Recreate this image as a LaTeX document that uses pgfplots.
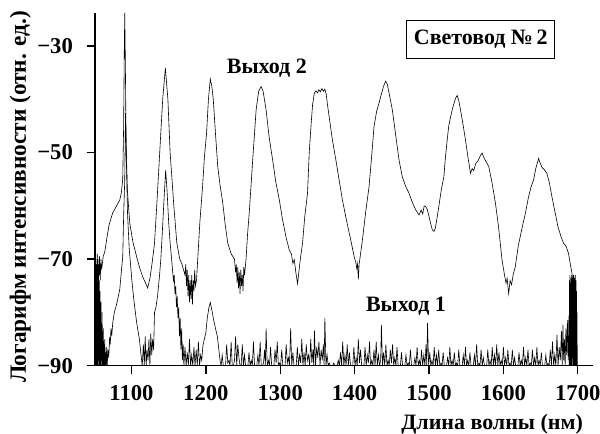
\documentclass[border=0pt]{standalone}
\usepackage{fontspec}
\setmainfont{Liberation Serif}
\usepackage{pgfplots}
\pgfplotsset{compat=1.18}
\begin{document}
\begin{tikzpicture}
\begin{axis}[
  scale only axis,
  width=374pt, height=265pt,
  xmin=1050.8, xmax=1720,
  ymin=-90, ymax=-23.8,
  axis x line=bottom, axis y line=left,
  axis line style={line width=1.1pt, -},
  xtick={1100,1200,1300,1400,1500,1600,1700},
  ytick={-90,-70,-50,-30},
  yticklabels={−90,−70,−50,−30},
  tick align=outside,
  major tick length=6pt,
  tick style={line width=1pt, black},
  ticklabel style={font=\fontsize{17}{19}\selectfont\bfseries},
  xticklabel style={/pgf/number format/1000 sep={}, yshift=-5pt},
  yticklabel style={xshift=-7pt},
  /pgf/number format/assume math mode=true,
  xlabel={Длина волны (нм)},
  xlabel style={font=\fontsize{16.5}{18}\selectfont\bfseries, at={(axis description cs:0.798,-0.181)}, anchor=base},
  ylabel={Логарифм интенсивности (отн. ед.)},
  ylabel style={font=\fontsize{17.5}{19}\selectfont\bfseries, at={(axis description cs:-0.15,0.479)}, anchor=center},
  clip=true,
]
\coordinate (bl) at (rel axis cs:0,0);
\coordinate (tr) at (rel axis cs:1,1);
% Выход 2
\addplot[black, line width=0.45pt] coordinates {
(1051,-72)(1051.5,-76)(1052,-70)(1052.5,-75)(1053,-71)(1053.5,-77)(1054,-69)(1054.5,-74)(1055,-70)(1055.5,-76)
(1056,-71)(1056.5,-73)(1057,-69.5)(1058,-74)(1059,-70)(1060,-72)(1062,-69.5)(1064.2,-68.6)(1067,-66)(1070,-63.5)
(1074.9,-61.3)(1080,-60)(1084.3,-58.9)(1086.5,-57.5)(1088.3,-55)(1089.5,-45)(1090.3,-32)(1091,-23.8)(1091.8,-33)
(1092.8,-48)(1094.5,-57)(1097.7,-63.2)(1102,-66.8)(1107.1,-69.6)(1111,-71.6)(1115.1,-73.3)(1118,-74.2)(1121.8,-75.4)
(1125,-73.5)(1128,-70.5)(1131,-67)(1134,-60)(1138,-50)(1142,-40)(1145.6,-34.1)
(1149,-40)(1152,-50)(1157,-60)(1161,-67)(1165,-70)(1168,-71)(1170,-72)
(1172,-73)(1173,-71)(1174,-75)(1175,-72)(1176,-77)(1177,-73)(1178,-78)(1179,-74)(1180,-77.5)(1181,-73)
(1182,-78.5)(1183,-74)(1184,-76)(1185,-72)(1186,-75)(1187.5,-73.9)(1189.5,-69)(1192,-63)(1195.6,-56.4)
(1198,-51)(1201,-46.3)(1203.5,-40)(1206,-36.2)(1208,-37.5)(1210,-40)(1213,-46.5)(1216,-52.6)(1219,-56)
(1222.8,-59.5)(1226,-63.5)(1229.5,-67)(1234,-69)(1238.5,-70)(1240,-72.5)(1241,-71)(1242,-74.5)(1243,-71.5)
(1244,-75.5)(1245,-72.5)(1246,-76.5)(1247,-72)(1248,-75)(1249,-73)(1250,-76)(1251,-71.5)(1252,-73)(1254,-70.1)
(1256,-65.5)(1258.6,-60.8)(1263,-51.4)(1267.6,-42)(1271,-38.5)(1274.3,-37.6)(1277,-38.5)(1281,-42)(1285,-47)
(1289.8,-51.4)(1294,-55.5)(1298.8,-58.9)(1303,-62.5)(1308,-66)(1312.2,-68.3)(1315,-69)(1317,-70.8)(1318.9,-70.1)
(1321,-72.5)(1323.3,-74.6)(1325,-72.5)(1327,-70)(1330,-67)(1333,-62)(1336.7,-57.6)(1339,-50)(1341.3,-45.1)
(1343.5,-41)(1345.8,-38.9)(1348,-38.4)(1350,-38.8)(1352,-38.2)(1354,-38.6)(1356,-38)(1358,-38.5)(1360,-38.1)
(1361.8,-39)(1363.5,-41)(1365.8,-43.3)(1370,-47.5)(1374.8,-51.4)(1379,-55)(1383.6,-58.9)(1388,-62)(1392.6,-65)
(1396,-67.2)(1399.3,-69.5)(1401.5,-70.5)(1403,-71.8)(1404,-70.9)(1405,-73.8)(1406,-71)(1408,-69)(1410.5,-66.4)
(1415,-61)(1419.4,-56.4)(1423,-50.5)(1426.1,-45.1)(1429.5,-42.3)(1432.8,-40.7)(1436,-39)(1439,-37.5)(1441.8,-36.6)
(1444,-37.2)(1446,-38.6)(1450.7,-42)(1455,-46.5)(1459.7,-51.4)(1464,-54.5)(1468.5,-56.3)(1473,-57.6)(1478,-59.5)
(1482,-60.7)(1486.5,-61.7)(1489.5,-60.8)(1491.5,-61.5)(1493.5,-60)(1495.4,-60.1)(1497.5,-60.6)(1500,-62)
(1502.5,-63.5)(1504.5,-64.5)(1506.6,-64.8)(1508.5,-64.2)(1510.5,-62.5)(1513.3,-60)(1516.5,-57)(1520,-54.5)
(1522,-51)(1524,-48.2)(1526.5,-45)(1529,-43.3)(1532,-41.5)(1535.7,-39.8)(1537.8,-39.3)(1540,-40.2)(1543,-42.5)
(1546,-45)(1549,-47.6)(1552.5,-51)(1555.8,-53.9)(1558,-53)(1560,-53.4)(1563,-52)(1566,-51.5)(1569,-50.6)
(1571.3,-50.1)(1574,-51)(1577,-51.8)(1580.3,-52.6)(1584.5,-55.5)(1589.3,-59.5)(1593.5,-64)(1598.1,-70.1)
(1601.5,-73)(1603.5,-74.5)(1605,-73.6)(1607.1,-76.5)(1609,-74)(1611,-74.8)(1613,-73)(1616,-71.4)(1620,-67.5)
(1624.5,-64.5)(1629.5,-61.4)(1633.5,-58.5)(1637,-56.5)(1640.6,-55.1)(1643.5,-53)(1647.3,-51.1)(1649.5,-52)
(1652,-52.8)(1655,-53.2)(1658.4,-53.9)(1661.5,-55.5)(1665.5,-58.5)(1669.7,-61.4)(1673.5,-64)(1677.5,-65.8)
(1680.8,-67)(1684,-67.5)(1687.5,-68.9)(1690,-71)(1692,-72.5)(1693,-74)(1694.2,-75.5)
};
% Выход 1
\addplot[black, line width=0.45pt] coordinates {
(1051,-90)(1051.3,-74)(1051.6,-88)(1051.9,-72)(1052.2,-90)(1052.5,-76)(1052.8,-86)(1053.1,-73)(1053.4,-90)(1053.7,-71)
(1054,-85)(1054.3,-74)(1054.6,-90)(1054.9,-75)(1055.2,-87)(1055.5,-72.5)(1055.8,-90)(1056.1,-77)(1056.4,-88)(1056.7,-74)
(1057,-90)(1057.3,-79)(1057.6,-86)(1057.9,-76)(1058.2,-90)(1058.5,-80)(1058.8,-88)(1059.1,-78)(1059.4,-90)(1059.8,-82)
(1060.2,-89)(1060.6,-80)(1061,-90)(1061.4,-84)(1061.8,-90)(1062.2,-83)(1062.7,-90)(1063.2,-86)(1063.7,-90)(1064.2,-85)
(1064.8,-90)(1065.4,-87.5)(1066,-90)(1066.7,-86.5)(1067.4,-90)(1068.5,-87)(1069.5,-88.5)(1070.7,-84.6)(1071.5,-86)(1072.5,-83)
(1073.5,-84.5)(1074.9,-81.9)
(1077,-80)(1080,-78.5)(1084.3,-75.7)(1086,-73)(1088.3,-69.5)(1089.5,-62)(1091,-55.1)(1092,-42.6)(1093,-50)(1094.7,-61.3)
(1097,-68)(1100.5,-73.9)(1103.5,-78)(1107,-81.9)(1110.8,-85.1)(1112.5,-87.5)(1114.5,-90)(1116,-86)(1117.3,-90)(1118.5,-84.5)
(1119.8,-90)(1121,-87)(1122.3,-89)(1123.5,-85)(1124.8,-90)(1126,-84)(1127.3,-88)(1128.5,-85)(1129.8,-87)(1131,-80)
(1133,-79)(1135,-77)(1137.5,-73.5)(1139.5,-70)(1141.5,-65)(1143.5,-59.5)(1146,-53.3)(1148,-57.5)(1150,-63)(1152,-67)
(1154,-70)(1155.5,-72.5)(1156.5,-74)(1157.5,-73)(1158.5,-76.5)(1159.5,-75)(1160.5,-79)(1161.5,-77)(1162.5,-81)(1163.5,-79)
(1164.5,-84.5)(1165.5,-81)(1166.5,-87)(1167.5,-83)(1168.5,-89)(1169.5,-86)(1170.5,-90)(1172,-86.5)(1173.5,-90)(1175,-87.5)
(1176.5,-90)(1178,-85)(1179.5,-90)(1181,-88)(1182.5,-90)(1184,-86.5)(1185.5,-90)(1187,-87)(1188.5,-90)(1190,-85.5)
(1191.5,-90)(1193,-88)(1194.5,-89)(1196,-86.3)(1198,-85)(1200,-83.8)(1202,-81)(1204,-79.2)(1206,-78.1)(1208,-79.5)
(1210.5,-81.4)(1213,-83)(1215.5,-84.5)(1217.5,-87)(1219.5,-89.4)(1220.5,-90)
(1222,-88)(1223.5,-90)(1225,-90)(1226.5,-90)(1228,-86)(1229.5,-89.5)(1231,-89)(1232.5,-90)(1234,-85.5)(1235.5,-90)
(1237,-90)(1238.5,-89)(1240,-84.5)(1241.5,-90)(1243,-86)(1244.5,-88.5)(1246,-90)(1247.5,-90)(1249,-86)(1250.5,-90)
(1252,-88)(1253.5,-90)(1255,-90)(1256.5,-90)(1258,-87.5)(1259.5,-90)(1261,-89)(1262.5,-90)(1264,-85.5)(1265.5,-90)
(1267,-90)(1268.5,-90)(1270,-88)(1271.5,-90)(1273,-85.5)(1274.5,-90)(1276,-90)(1277.5,-89.5)(1279,-87)(1280,-90)
(1281,-83)(1282.5,-90)(1284,-89)(1285.5,-90)(1287,-86.5)(1288.5,-90)(1290,-90)(1291.5,-90)(1293,-87)(1294.5,-89.5)
(1296,-85.5)(1297.5,-90)(1299,-89.5)(1300.5,-90)(1302,-87)(1303.5,-90)(1305,-90)(1306.5,-90)(1308,-86)(1309.5,-89.5)
(1311,-88.5)(1312.5,-90)(1314,-83)(1315.5,-90)(1317,-87.5)(1318.5,-90)(1320,-90)(1321.5,-90)(1323,-86.5)(1324.5,-90)
(1326,-88)(1327.5,-89.5)(1329,-85)(1330.5,-90)(1332,-87.5)(1333.5,-90)(1335,-86)(1336.5,-89)(1338,-88)(1339.5,-90)
(1341,-85)(1342.5,-89.5)(1344,-87)(1345,-90)(1346,-83.4)(1347.5,-90)(1349,-86.5)(1350.5,-88.5)(1352,-85.5)(1353.5,-90)
(1355,-87)(1356.5,-89)(1358,-86)(1359,-90)(1360,-81)(1361.5,-90)(1363,-88)(1364.5,-90)(1366,-89.5)(1367.5,-90)
(1369,-90)(1370.5,-90)(1372,-89.5)(1373.5,-90)(1375,-90)(1376.5,-90)(1378,-89)(1379.5,-90)(1381,-87.5)(1382.5,-90)
(1384,-85.5)(1385.5,-90)(1387,-88)(1388.5,-90)(1390,-86)(1391.5,-90)(1393,-87.5)(1394.5,-90)(1396,-90)(1397.5,-90)
(1399,-86.5)(1400.5,-90)(1402,-88.5)(1403.5,-90)(1405,-85)(1406.5,-89.5)(1408,-87)(1409.5,-90)(1411,-90)(1412.5,-90)
(1414,-86.5)(1415.5,-90)(1417,-88)(1418.5,-89.5)(1420,-85.5)(1421.5,-90)(1423,-89)(1424.5,-90)(1426,-87)(1427.5,-90)
(1429,-85.5)(1430.5,-90)(1432,-88)(1433.5,-90)(1435,-89)(1436,-82.3)(1437.5,-90)(1439,-87.5)(1440.5,-90)(1442,-86)
(1443.5,-90)(1445,-89)(1446.5,-90)(1448,-87)(1449.5,-89.5)(1451,-86)(1452.5,-90)(1454,-88.5)(1455.5,-90)(1457,-86.5)
(1458.5,-90)(1460,-90)(1461.5,-90)(1463,-87.5)(1464.5,-90)(1466,-90)(1467.5,-90)(1469,-88)(1470.5,-90)(1472,-89.5)
(1473.5,-90)(1475,-87)(1476.5,-90)(1478,-90)(1479.5,-90)(1481,-88.5)(1482.5,-90)(1484,-86.5)(1485.5,-90)(1487,-89)
(1488.5,-90)(1490,-87)(1491.5,-90)(1493,-88)(1494.5,-90)(1496,-86)(1497,-90)(1498,-82)(1499.5,-90)(1501,-87.5)
(1502.5,-90)(1504,-89)(1505.5,-90)(1507,-86.5)(1508.5,-90)(1510,-88)(1511.5,-90)(1513,-87)(1514.5,-90)(1516,-89.5)
(1517.5,-90)(1519,-87.5)(1520.5,-90)(1522,-90)(1523.5,-90)(1525,-88.5)(1526.5,-90)(1528,-86.5)(1529.5,-90)(1531,-89)
(1532.5,-90)(1534,-87.5)(1535.5,-90)(1537,-89.5)(1538.5,-90)(1540,-87)(1541.5,-90)(1543,-90)(1544.5,-90)(1546,-88)
(1547.5,-90)(1549,-86.5)(1550.5,-90)(1552,-89)(1553.5,-90)(1555,-87.5)(1556.5,-90)(1558,-90)(1559.5,-90)(1561,-88)
(1562.5,-90)(1564,-86)(1565.5,-90)(1567,-89.5)(1568.5,-90)(1570,-87)(1571.5,-90)(1573,-88.5)(1574.5,-90)(1576,-90)
(1577.5,-90)(1579,-87)(1580.5,-90)(1582,-89)(1583.5,-90)(1585,-86.5)(1586.5,-90)(1588,-88)(1589.5,-90)(1591,-86)
(1592.5,-90)(1594,-87.5)(1595.5,-90)(1597,-89)(1598.5,-90)(1600,-86.5)(1601.5,-90)(1603,-88.5)(1604.5,-90)(1606,-87)
(1607.5,-90)(1609,-89.5)(1610.5,-90)(1612,-87)(1613.5,-90)(1615,-88.5)(1616.5,-90)(1618,-90)(1619.5,-90)(1621,-87.5)
(1622.5,-90)(1624,-89)(1625.5,-90)(1627,-86.5)(1628.5,-90)(1630,-88.5)(1631.5,-90)(1633,-87)(1634.5,-90)(1636,-89.5)
(1637.5,-90)(1639,-87)(1640.5,-90)(1642,-88.5)(1643.5,-90)(1645,-86.5)(1646.5,-90)(1648,-89)(1649.5,-90)(1651,-87.5)
(1652.5,-90)(1654,-90)(1655.5,-90)(1657,-88)(1658.5,-90)(1660,-89.5)(1661.5,-90)(1663,-87)(1664.5,-90)(1666,-85.5)
(1667.5,-90)(1669,-88)(1670.5,-90)(1672,-84.2)(1673.5,-90)(1675,-86.5)(1676.5,-89)(1678,-83.5)(1679,-90)(1680,-82.3)
(1681,-89)(1682,-85)(1683,-90)(1684,-83)(1685,-88)(1686,-81.4)(1687,-89)(1688,-80.6)
(1688.5,-90)(1688.8,-74)(1689.1,-88)(1689.4,-73)(1689.7,-90)(1690,-75)(1690.3,-89)(1690.6,-73.5)(1690.9,-90)(1691.2,-74)
(1691.5,-87)(1691.8,-73)(1692.1,-90)(1692.4,-76)(1692.7,-88)(1693,-73.5)(1693.3,-90)(1693.6,-74.5)(1693.9,-89)(1694.2,-73)
(1694.5,-90)(1694.8,-75)(1695.1,-88)(1695.4,-73.5)(1695.7,-90)(1696,-74)(1696.3,-87)(1696.6,-73)(1696.9,-90)(1697.2,-75)
(1697.5,-89)(1697.8,-74)(1698.1,-90)(1698.4,-76)(1698.7,-90)(1699,-80)(1699.3,-90)
};
\node[font=\fontsize{16.5}{18}\selectfont\bfseries, anchor=base] at (axis cs:1282,-35.1) {Выход 2};
\node[font=\fontsize{16.5}{18}\selectfont\bfseries, anchor=base] at (axis cs:1469,-79.8) {Выход 1};
\node[font=\fontsize{16.5}{18}\selectfont\bfseries, draw, line width=0.8pt, minimum width=111pt, minimum height=28.5pt, fill=white] at (axis cs:1569.6,-28.7) {Световод №\,2};
\end{axis}
\pgfresetboundingbox
\path ([shift={(-71.25pt,-51pt)}]bl) rectangle ([shift={(5.5pt,9.75pt)}]tr);
\end{tikzpicture}
\end{document}
